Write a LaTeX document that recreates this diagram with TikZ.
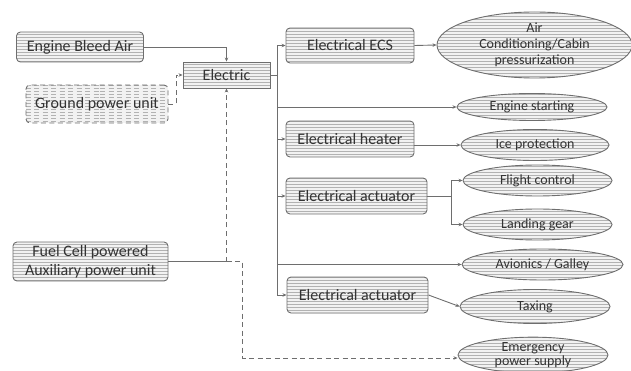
\documentclass[tikz,border=0pt]{standalone}
\usepackage{fontspec}
\setmainfont{Carlito}
\usepackage {tikz}
\usetikzlibrary {positioning}
\usetikzlibrary{shapes.geometric}
\usetikzlibrary{arrows.meta}
\usetikzlibrary{patterns}
\definecolor{edge}{HTML}{6E6E6E}
\definecolor{ink}{HTML}{333333}
\tikzset{
	hatch/.style={preaction={fill=gray!10}, pattern=horizontal lines, pattern color=gray!60},
	block/.style={hatch, draw=edge, line width=0.9pt, rounded corners=4pt, text=ink,
		font=\fontsize{16}{19}\selectfont, align=center, inner sep=2pt},
	hub/.style={block, rounded corners=0pt},
	longdash/.style={dash pattern=on 5pt off 3.5pt},
	ghost/.style={block, longdash},
	oval/.style={ellipse, hatch, draw=edge, line width=0.9pt, text=ink,
		font=\fontsize{14}{16}\selectfont, align=center, inner sep=0pt},
	link/.style={draw=edge, line width=0.9pt, -{Stealth[length=4pt,width=3.5pt]}},
}
\begin{document}
\begin{tikzpicture}[x=1pt,y=-1pt]
	\useasboundingbox (0,0) rectangle (631,371);
	% sources
	\node[block, minimum width=127pt, minimum height=30pt] (bleed) at (80,47) {Engine Bleed Air};
	\node[ghost, minimum width=142pt, minimum height=38pt] (ground) at (97,104) {Ground power unit};
	\node[block, minimum width=155pt, minimum height=39pt] (fuel) at (90.5,261.5) {Fuel Cell powered\\Auxiliary power unit};
	\node[hub, minimum width=87pt, minimum height=26pt] (elec) at (226.5,75) {Electric};
	% systems
	\node[block, minimum width=128pt, minimum height=35pt] (ecs) at (350,45.5) {Electrical ECS};
	\node[block, minimum width=128pt, minimum height=36pt] (heater) at (350,139) {Electrical heater};
	\node[block, minimum width=141pt, minimum height=36pt] (act1) at (356.5,196) {Electrical actuator};
	\node[block, minimum width=141pt, minimum height=36pt] (act2) at (357.5,295) {Electrical actuator};
	% loads
	\node[oval, minimum width=195pt, minimum height=66pt] (aircon) at (534.5,45) {Air\\Conditioning/Cabin\\pressurization};
	\node[oval, minimum width=150pt, minimum height=27pt] (start) at (532,107) {Engine starting};
	\node[oval, minimum width=148pt, minimum height=31pt] (ice) at (535,145) {Ice protection};
	\node[oval, minimum width=149pt, minimum height=31pt] (flight) at (537.5,180.5) {Flight control};
	\node[oval, minimum width=149pt, minimum height=31pt] (landing) at (537.5,224.5) {Landing gear};
	\node[oval, minimum width=161pt, minimum height=31pt] (avionics) at (542.5,264.5) {Avionics / Galley};
	\node[oval, minimum width=150pt, minimum height=34pt] (taxing) at (535,306.5) {Taxing};
	\node[oval, minimum width=150pt, minimum height=34pt, font=\fontsize{14}{14}\selectfont] (emerg) at (533,355) {Emergency\\power supply};
	% feeds into the bus
	\draw[link] (bleed.east) -| (elec.north);
	\draw[link, longdash] (ground.east) -- ++(8,0) coordinate (gnd) |- (elec.west);
	\draw[draw=edge, line width=0.9pt] (fuel.east) -- (fuel.east -| elec.south) coordinate (apu);
	\draw[link, longdash] (apu) -- (elec.south);
	\draw[link, longdash] (apu) -- ++(16,0) |- ([yshift=-3pt]emerg.west);
	% bus out
	\draw[draw=edge, line width=0.9pt] (elec.east) -- ++(7,0) coordinate (bus);
	\foreach \t in {ecs, start, heater, act1, avionics, act2}
		\draw[link] (bus) |- (\t.west);
	\draw[link] (ecs.east) -- (aircon.west);
	\draw[link] (heater.east |- ice.west) -- (ice.west);
	\draw[draw=edge, line width=0.9pt] (act1.east) -- ++(24,0) coordinate (split);
	\draw[link] (split) |- (flight.west);
	\draw[link] (split) |- (landing.west);
	\draw[link] (act2.east) -- (taxing.west);
\end{tikzpicture}
\end{document}
